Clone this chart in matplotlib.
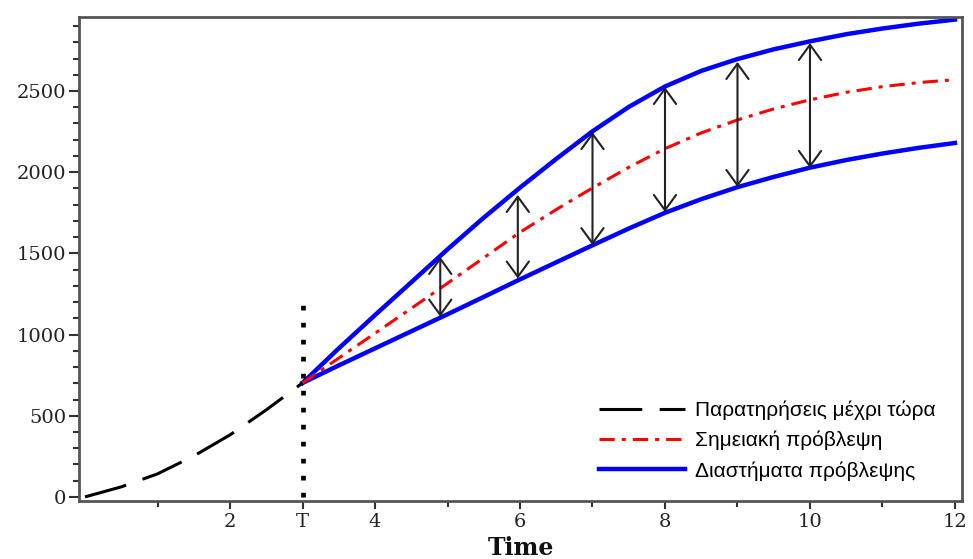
import matplotlib.pyplot as plt
from matplotlib.ticker import MultipleLocator, FixedLocator

# Παρατηρήσεις (μέχρι το T)
obs_t = [0, 0.5, 1, 1.5, 2, 2.5, 3]
obs_y = [0, 62, 142, 252, 382, 536, 702]

# Προβλέψεις από T έως 12
fc_t = [3, 3.5, 4, 4.5, 5, 5.5, 6, 6.5, 7, 7.5, 8, 8.5, 9, 9.5, 10, 10.5, 11, 11.5, 12]
point_fc = [702, 855, 1008, 1161, 1316, 1473, 1630, 1770, 1903, 2030, 2145, 2242,
            2322, 2390, 2446, 2492, 2527, 2552, 2570]
upper_fc = [702, 915, 1120, 1322, 1525, 1720, 1905, 2082, 2252, 2402, 2528, 2624,
            2697, 2757, 2806, 2850, 2885, 2915, 2940]
lower_fc = [702, 810, 915, 1020, 1125, 1232, 1340, 1445, 1550, 1653, 1750, 1834,
            1908, 1971, 2028, 2075, 2115, 2150, 2180]

# βέλη διαστημάτων
arrow_t = [4.9, 5.97, 7, 8, 9, 10]
arrow_lo = [1110, 1345, 1551, 1755, 1909, 2026]
arrow_hi = [1478, 1860, 2247, 2525, 2679, 2796]

T = 3
T_top = 1200

xticks = [2, 3, 4, 6, 8, 10, 12]
xtick_labels = ['2', 'T', '4', '6', '8', '10', '12']

labels = ['Παρατηρήσεις μέχρι τώρα', 'Σημειακή πρόβλεψη', 'Διαστήματα πρόβλεψης']

fig = plt.figure(figsize=(9.73, 5.59), dpi=100)
ax = fig.add_axes([0.0812, 0.1038, 0.9075, 0.8658])

l1, = ax.plot(obs_t, obs_y, color='black', lw=2.2, dashes=(14, 5.7), zorder=3)
l3, = ax.plot(fc_t, upper_fc, color='#0000ff', lw=3.2, zorder=2)
ax.plot(fc_t, lower_fc, color='#0000ff', lw=3.2, zorder=2)
l2, = ax.plot(fc_t, point_fc, color='#ff0000', lw=2.2, dashes=(5, 2.3, 1.3, 2.3), zorder=4)

# κατακόρυφη γραμμή στο T
ax.plot([T, T], [0, T_top], color='black', lw=3.4, dashes=(1, 2.6), zorder=3)

for t, lo, hi in zip(arrow_t, arrow_lo, arrow_hi):
    ax.annotate('', xy=(t, hi), xytext=(t, lo),
                arrowprops=dict(arrowstyle='<->,head_length=0.55,head_width=0.4',
                                color='#222222', lw=1.5, shrinkA=0, shrinkB=0,
                                mutation_scale=20), zorder=5)

ax.set_xlim(-0.083, 12.097)
ax.set_ylim(-25, 2956)

ax.xaxis.set_major_locator(FixedLocator(xticks))
ax.set_xticklabels(xtick_labels)
ax.xaxis.set_minor_locator(FixedLocator([1, 5, 7, 9, 11]))
ax.yaxis.set_major_locator(MultipleLocator(500))
ax.yaxis.set_minor_locator(MultipleLocator(100))

for lab in ax.get_xticklabels() + ax.get_yticklabels():
    lab.set_family('DejaVu Serif')
    lab.set_fontsize(14)
    lab.set_color('#222222')

ax.tick_params(which='major', direction='out', length=7, width=1.5, color='#333333', pad=2)
ax.tick_params(which='minor', direction='out', length=4, width=1.5, color='#333333')
ax.tick_params(axis='x', which='major', length=6, pad=3)

for s in ax.spines.values():
    s.set_linewidth(2)
    s.set_color('#555555')

ax.set_xlabel('Time', family='DejaVu Serif', fontweight='bold', fontsize=17,
              labelpad=3, color='#111111')

ax.legend([l1, l2, l3], labels, loc='upper left', bbox_to_anchor=(0.58, 0.225),
          frameon=False, prop={'family': 'Liberation Sans', 'size': 15},
          handlelength=4.1, handletextpad=0.5, labelspacing=0.52, borderaxespad=0)

plt.savefig('out.png', dpi=100)
